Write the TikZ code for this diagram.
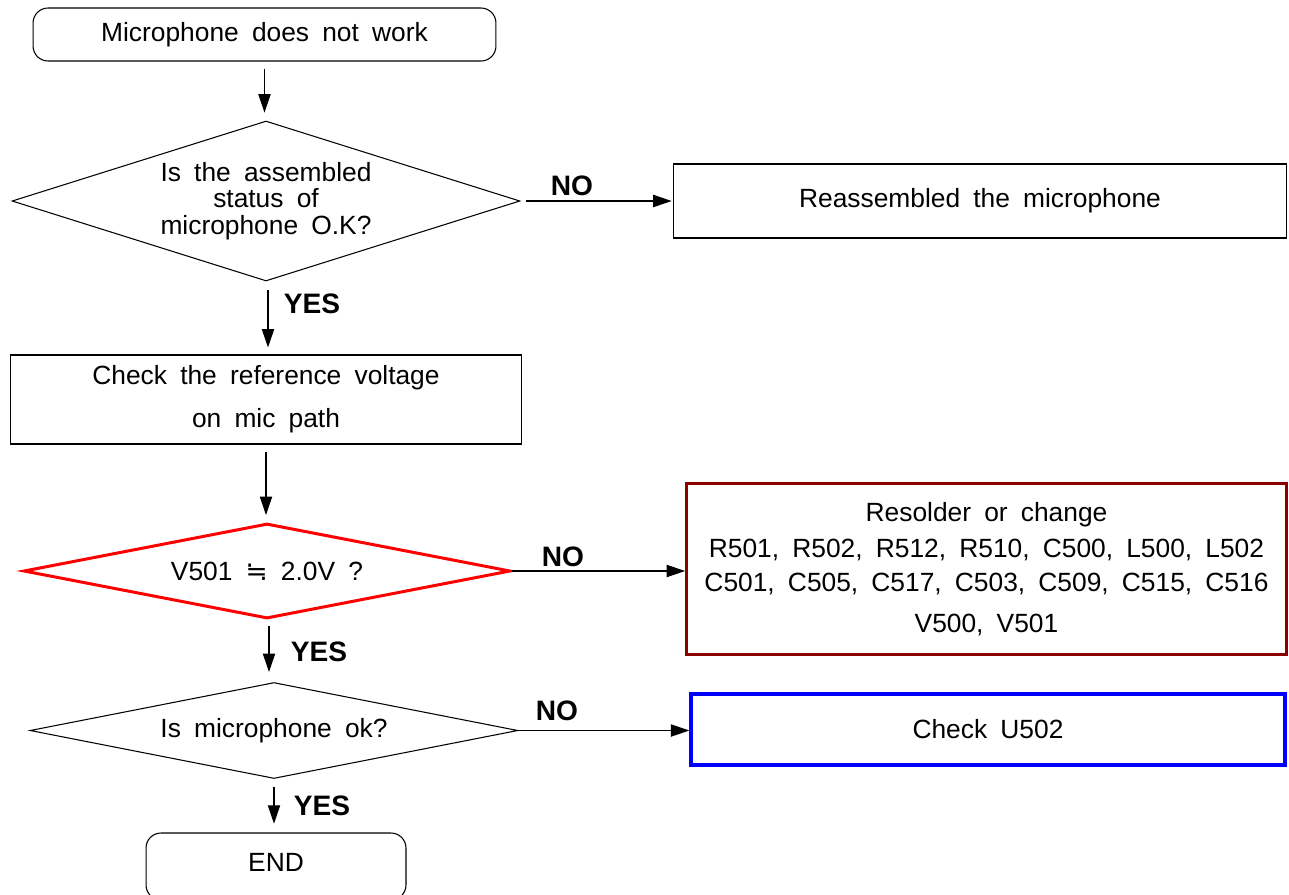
\documentclass[tikz,border=0pt]{standalone}
\usepackage{fontspec}
\setmainfont{Liberation Sans}[WordSpace=1.8]
\newfontfamily\symfont{DejaVu Sans}
\usetikzlibrary{shapes.geometric,arrows.meta}
\definecolor{darkred}{RGB}{140,0,0}
\definecolor{purered}{RGB}{255,0,0}
\definecolor{pureblue}{RGB}{0,0,255}
\tikzset{
  txt/.style={font=\fontsize{15}{15}\selectfont, align=center},
  lbl/.style={font=\fontsize{16}{18}\selectfont\bfseries, inner sep=0pt},
  termbox/.style={txt, draw, line width=0.6pt, rounded corners=0.3cm, inner sep=0pt},
  procbox/.style={txt, draw, line width=0.6pt, inner sep=0pt},
  decision/.style={txt, draw, line width=0.6pt, diamond, inner sep=0pt},
  arr/.style={-{Triangle[length=10.5pt,width=7pt]}, line width=0.6pt},
}
\begin{document}
\begin{tikzpicture}[x=0.02cm,y=-0.02cm]
\useasboundingbox (0,0) rectangle (1289,894);
\clip (0,0) rectangle (1289,894);

\node[termbox, minimum width=9.26cm, minimum height=1.06cm] (start) at (264.5,34.5) {Microphone does not work};

\node[decision, aspect=3.2, minimum width=10.16cm, minimum height=3.2cm] (d1) at (266,201)
  {Is the assembled\\status of\\microphone O.K?};

\node[procbox, minimum width=12.28cm, minimum height=1.48cm] (reass) at (980,201) {Reassembled the microphone};

\node[procbox, minimum width=10.24cm, minimum height=1.78cm] (check) at (266,399.5)
  {Check the reference voltage\\[9.4pt]on mic path};

\node[decision, aspect=5, draw=purered, line width=1.7pt, minimum width=9.74cm, minimum height=1.9cm] (d2) at (267,571)
  {V501 {\symfont ≒} 2.0V ?};

\node[procbox, draw=darkred, line width=1.7pt, minimum width=12.0cm, minimum height=3.42cm] (resolder) at (986.5,569)
  {Resolder or change\\[5.4pt]R501, R502, R512, R510, C500, L500, L502\\[4.3pt]C501, C505, C517, C503, C509, C515, C516\\[8.2pt]V500, V501};

\node[decision, aspect=5, minimum width=9.76cm, minimum height=1.92cm] (d3) at (274,730.5)
  {Is microphone ok?};

\node[procbox, draw=pureblue, line width=2pt, minimum width=11.88cm, minimum height=1.42cm] (u502) at (988,729.5) {Check U502};

\node[termbox, minimum width=5.2cm, minimum height=1.34cm, text depth=5pt] (end) at (276,866.5) {END};

% labels
\node[lbl] (no1) at (572,186) {NO};
\node[lbl] (yes1) at (312,304) {YES};
\node[lbl] (no2) at (563,557) {NO};
\node[lbl] (yes2) at (319,652) {YES};
\node[lbl] (no3) at (557,711) {NO};
\node[lbl] (yes3) at (322,806) {YES};

% connectors
\draw[arr, shorten <=4pt, shorten >=4.5pt] (start.south) -- (start.south |- d1.north);
\draw[arr, shorten <=3pt, shorten >=0.5pt] (d1.east) -- (reass.west);
\draw[arr, shorten <=5pt, shorten >=4pt] ([xshift=2*0.02cm]d1.south) -- ([xshift=2*0.02cm]d1.south |- check.north);
\draw[arr, shorten <=4.5pt, shorten >=4pt] (check.south) -- (check.south |- d2.north);
\draw[arr] (d2.east) -- (d2.east -| resolder.west);
\draw[arr, shorten <=3.4pt, shorten >=5.7pt] ([xshift=2*0.02cm]d2.south) -- ([xshift=2*0.02cm]d2.south |- d3.north);
\draw[arr] (d3.east) -- (d3.east -| u502.west);
\draw[arr, shorten <=4.5pt, shorten >=5pt] (d3.south) -- (d3.south |- end.north);
\end{tikzpicture}
\end{document}
